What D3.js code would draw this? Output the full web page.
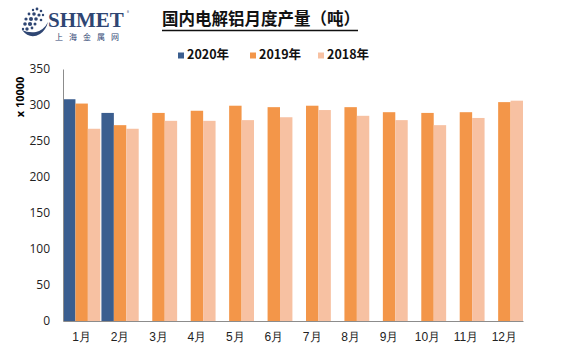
<!DOCTYPE html>
<html>
<head>
<meta charset="utf-8">
<script src="https://cdn.jsdelivr.net/npm/d3@7"></script>
<style>
  body { margin: 0; background: #fff; }
  svg { display: block; font-family: "Noto Sans CJK SC", "Open Sans", sans-serif; }
</style>
</head>
<body>
<div id="chart"></div>
<script>
const months = ["1月", "2月", "3月", "4月", "5月", "6月", "7月", "8月", "9月", "10月", "11月", "12月"];
const seriesNames = ["2020年", "2019年", "2018年"];
const values2020 = [308, 289, null, null, null, null, null, null, null, null, null, null];
const values2019 = [302, 272, 289, 292, 299, 297, 299, 297, 290, 289, 290, 304];
const values2018 = [267, 267, 278, 278, 279, 283, 293, 285, 279, 272, 282, 306];
const yTicks = [0, 50, 100, 150, 200, 250, 300, 350];
const colors = ["#3B5E8F", "#F39649", "#F7C1A2"];

const width = 570, height = 352;
const margin = { top: 69, right: 47, bottom: 31, left: 63 };

const svg = d3.select("#chart").append("svg")
  .attr("width", width)
  .attr("height", height);

// 数据表
const table = months.map((m, i) => ({
  month: m,
  vals: [values2020[i], values2019[i], values2018[i]]
}));

const x = d3.scaleBand()
  .domain(months)
  .range([margin.left, width - margin.right])
  .paddingInner(0.03)
  .paddingOuter(0);

const xs = d3.scaleBand()
  .domain(seriesNames)
  .range([0, x.bandwidth()])
  .padding(0);

const y = d3.scaleLinear()
  .domain([0, 350])
  .range([height - margin.bottom, margin.top]);

// 柱子
const groups = svg.append("g").selectAll("g")
  .data(table)
  .enter().append("g")
  .attr("transform", d => `translate(${x(d.month)},0)`);

groups.selectAll("rect")
  .data(d => d.vals.map((v, k) => ({ name: seriesNames[k], v, k })).filter(e => e.v != null))
  .enter().append("rect")
  .attr("x", e => xs(e.name))
  .attr("y", e => y(e.v))
  .attr("width", xs.bandwidth())
  .attr("height", e => y(0) - y(e.v))
  .attr("fill", e => colors[e.k]);

// Y轴
const yAxis = svg.append("g")
  .attr("transform", `translate(${margin.left},0)`)
  .call(d3.axisLeft(y).tickValues(yTicks).tickSize(0).tickPadding(13));
yAxis.select(".domain").attr("stroke", "#8c8c8c");
yAxis.selectAll("text")
  .style("font-size", "12px")
  .style("font-family", "'Open Sans', sans-serif")
  .attr("fill", "#222");

// X轴
const xAxis = svg.append("g")
  .attr("transform", `translate(0,${height - margin.bottom})`)
  .call(d3.axisBottom(x).tickSize(0).tickPadding(11));
xAxis.select(".domain").attr("stroke", "#8c8c8c");
xAxis.selectAll("text")
  .style("font-size", "12px")
  .attr("fill", "#222");

// 单位
svg.append("text")
  .attr("transform", "rotate(-90)")
  .attr("x", -97)
  .attr("y", 24)
  .attr("text-anchor", "middle")
  .style("font-size", "11px")
  .style("font-weight", "bold")
  .style("font-family", "'Open Sans', sans-serif")
  .text("x 10000");

// 标题
const title = svg.append("text")
  .attr("x", 162)
  .attr("y", 25)
  .style("font-size", "16.5px")
  .style("font-weight", "bold")
  .attr("fill", "#111")
  .text("国内电解铝月度产量（吨）");
svg.append("line")
  .attr("x1", 162).attr("x2", 358)
  .attr("y1", 30.5).attr("y2", 30.5)
  .attr("stroke", "#111")
  .attr("stroke-width", 1.3);

// 图例
const legendX = [178, 250, 318];
const legend = svg.append("g").selectAll("g")
  .data(seriesNames)
  .enter().append("g")
  .attr("transform", (d, i) => `translate(${legendX[i]},52)`);
legend.append("rect")
  .attr("width", 6).attr("height", 6)
  .attr("y", 0.5)
  .attr("fill", (d, i) => colors[i]);
legend.append("text")
  .attr("x", 9)
  .attr("y", 7)
  .style("font-size", "12.5px")
  .style("font-weight", "bold")
  .attr("fill", "#111")
  .text(d => d);

// Logo
const logo = svg.append("g");
const dots = [[33,10,1.2],[37,9,1.4],[41,11,1.3],[29,14,1.4],[34,14,1.8],[39,15,1.6],[43,15,1.2],
  [26,19,1.6],[31,19,2.0],[36,19,1.8],[41,20,1.3],[25,24,1.8],[30,24,2.1],[35,24,1.5],
  [27,29,1.7],[32,28,1.4],[23,29,1.2]];
logo.selectAll("circle")
  .data(dots)
  .enter().append("circle")
  .attr("cx", d => d[0]).attr("cy", d => d[1]).attr("r", d => d[2])
  .attr("fill", "#2F4673");
logo.append("path")
  .attr("d", "M22,30 Q30,40 40,34 Q46,30 48,22 Q44,30 36,32 Q28,33 22,30 Z")
  .attr("fill", "#2F4673");
logo.append("text")
  .attr("x", 48)
  .attr("y", 27)
  .style("font-family", "'Liberation Serif', serif")
  .style("font-size", "21px")
  .style("font-weight", "bold")
  .attr("fill", "#2F4673")
  .text("SHMET");
logo.append("text")
  .attr("x", 127).attr("y", 14)
  .style("font-size", "4px")
  .attr("fill", "#2F4673")
  .text("®");
logo.append("text")
  .attr("x", 55)
  .attr("y", 40)
  .style("font-size", "8px")
  .style("letter-spacing", "6px")
  .attr("fill", "#2F4673")
  .text("上海金属网");
</script>
</body>
</html>
